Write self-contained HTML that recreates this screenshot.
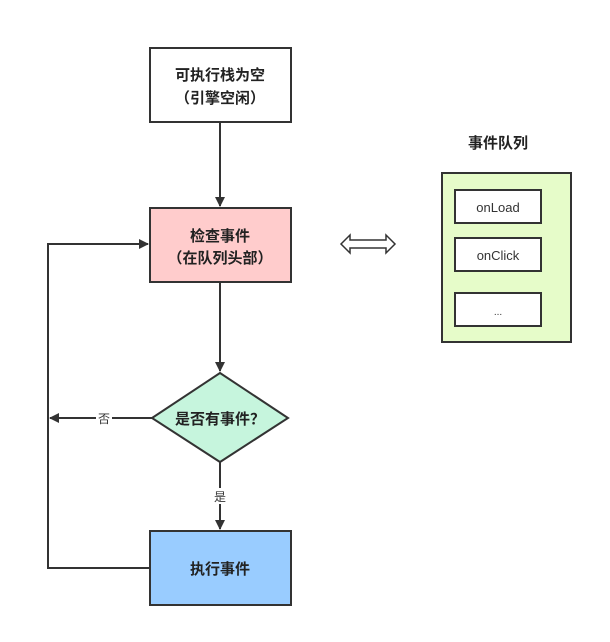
<!DOCTYPE html>
<html><head><meta charset="utf-8"><style>body{margin:0;background:#fff}</style></head><body>
<svg width="610" height="637" xmlns="http://www.w3.org/2000/svg" style="font-family:'Liberation Sans','Noto Sans CJK SC',sans-serif">
<defs><marker id="a" markerWidth="10" markerHeight="10" refX="9" refY="5" orient="auto" markerUnits="userSpaceOnUse"><path d="M0,0 L10,5 L0,10 Z" fill="#333"/></marker></defs>
<g stroke="#333" stroke-width="2" fill="none">
<line x1="220" y1="122" x2="220" y2="206" marker-end="url(#a)"/>
<line x1="220" y1="282" x2="220" y2="371" marker-end="url(#a)"/>
<line x1="220" y1="462" x2="220" y2="529" marker-end="url(#a)"/>
<line x1="152" y1="418" x2="50" y2="418" marker-end="url(#a)"/>
<polyline points="150,568 48,568 48,244 148,244" marker-end="url(#a)"/>
</g>
<rect x="150" y="48" width="141" height="74" fill="#fff" stroke="#333" stroke-width="2"/>
<rect x="150" y="208" width="141" height="74" fill="#fcc" stroke="#333" stroke-width="2"/>
<polygon points="220,373 288,418 220,462 152,418" fill="#c6f5dd" stroke="#333" stroke-width="2"/>
<rect x="150" y="531" width="141" height="74" fill="#9cf" stroke="#333" stroke-width="2"/>
<rect x="96" y="410" width="16" height="16" fill="#fff"/>
<rect x="212" y="488" width="16" height="16" fill="#fff"/>
<g font-weight="bold" font-size="15" fill="#222" text-anchor="middle">
<text x="220" y="80">可执行栈为空</text><text x="220" y="103">（引擎空闲）</text>
<text x="220" y="241">检查事件</text><text x="220" y="263">（在队列头部）</text>
<text x="220" y="424">是否有事件？</text>
<text x="220" y="574">执行事件</text>
<text x="498" y="148">事件队列</text>
</g>
<g font-size="12" fill="#333" text-anchor="middle"><text x="104" y="423">否</text><text x="220" y="501">是</text></g>
<rect x="442" y="173" width="129" height="169" fill="#e6fcc9" stroke="#333" stroke-width="2"/>
<g fill="#fff" stroke="#333" stroke-width="2">
<rect x="455" y="190" width="86" height="33"/><rect x="455" y="238" width="86" height="33"/><rect x="455" y="293" width="86" height="33"/></g>
<g font-size="13" fill="#333" text-anchor="middle"><text x="498" y="212">onLoad</text><text x="498" y="260">onClick</text><text x="498" y="315" font-size="10">...</text></g>
<path d="M341,244 L350,235 L350,240 L386,240 L386,235 L395,244 L386,253 L386,248 L350,248 L350,253 Z" fill="#fff" stroke="#333" stroke-width="1.5"/>
</svg>
</body></html>
